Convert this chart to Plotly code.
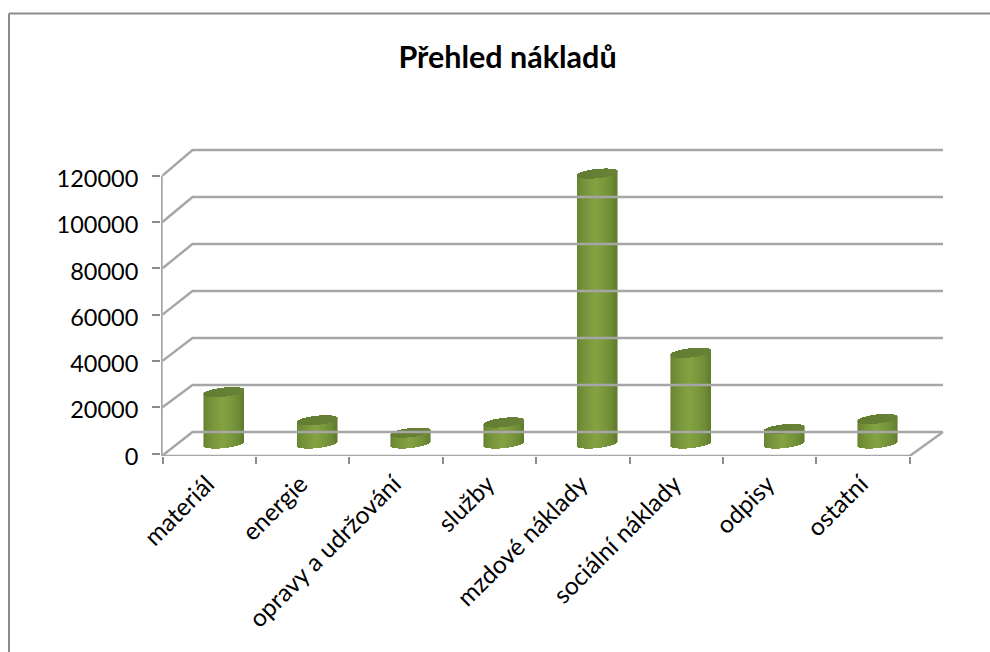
import numpy as np
import plotly.graph_objects as go

categories = ["materiál", "energie", "opravy a udržování", "služby",
              "mzdové náklady", "sociální náklady", "odpisy", "ostatní"]
values = [22200, 10000, 4700, 9100, 116600, 39200, 6300, 10600]
y_ticks = [0, 20000, 40000, 60000, 80000, 100000, 120000]

W, H = 990, 652
PX_PER_CAT = 93.4
UNITS_PER_PX = 20000 / 46.3
ZERO_PX = 453.5
PLOT_L, PLOT_R, PLOT_T, PLOT_B = 161, 960, 140, 456
FONT = "Lato"
GRID = "#a6a6a6"


def cat_x(px):
    return (px - 162.5) / PX_PER_CAT


def val_y(px):
    return (ZERO_PX - px) * UNITS_PER_PX


x_range = [cat_x(PLOT_L), cat_x(PLOT_R)]
y_range = [val_y(PLOT_B), val_y(PLOT_T)]

DX = 30 / PX_PER_CAT          # oblique depth, in category units
n = len(categories)
BACK_STEP = 47 / 46.3
back0 = val_y(432)
front_floor = val_y(456)

fig = go.Figure()


def line(xs, ys, color=GRID, width=2.4):
    fig.add_trace(go.Scatter(x=xs, y=ys, mode="lines", hoverinfo="skip",
                             line=dict(color=color, width=width),
                             showlegend=False))


# walls
for v in y_ticks:
    back = back0 + v * BACK_STEP
    start = v if v else val_y(455.5)
    line([0, DX, cat_x(943)], [start, back, back])
# floor
line([0, n, cat_x(943)], [front_floor, front_floor, back0])
# vertical axis
line([cat_x(161.5)] * 2, [front_floor, 120000])

# cylinders, drawn as one-pixel vertical strips
HALF_W = 20.5
E_PX = 4.6
TILT = 2.2
OFFSET = 14.5 / PX_PER_CAT
BASE = 10 * UNITS_PER_PX
us = np.arange(-HALF_W + 0.5, HALF_W, 1.0) / HALF_W


def mix(a, b, t):
    return tuple(a[i] + (b[i] - a[i]) * t for i in range(3))


def body_colour(u):
    dark, light = (94, 122, 44), (132, 162, 66)
    t = np.clip(1 - abs(u + 0.05) / 1.0, 0, 1) ** 0.6
    c = mix(dark, light, t)
    alpha = 0.55 if abs(u) > 0.96 else 1
    return f"rgba({c[0]:.0f},{c[1]:.0f},{c[2]:.0f},{alpha})"


def cap_colour(u):
    c = mix((98, 124, 50), (104, 130, 56), (u + 1) / 2)
    alpha = 0.55 if abs(u) > 0.96 else 1
    return f"rgba({c[0]:.0f},{c[1]:.0f},{c[2]:.0f},{alpha})"


bx, bb, bh, bc, cx, cb, ch, cc = [], [], [], [], [], [], [], []
for i, v in enumerate(values):
    for u in us:
        half = E_PX * np.sqrt(max(1 - u * u, 0)) * UNITS_PER_PX
        tilt = TILT * u * UNITS_PER_PX
        xpos = i + 0.5 + OFFSET + u * HALF_W / PX_PER_CAT
        low = BASE + tilt - half
        top = BASE + v + tilt
        bx.append(xpos); bb.append(low); bh.append(top - low); bc.append(body_colour(u))
        cx.append(xpos); cb.append(top - half); ch.append(2 * half); cc.append(cap_colour(u))

strip = 1.0 / PX_PER_CAT
fig.add_trace(go.Bar(x=bx, y=bh, base=bb, width=strip, marker=dict(color=bc, line_width=0),
                     hoverinfo="skip", showlegend=False))
fig.add_trace(go.Bar(x=cx, y=ch, base=cb, width=strip, marker=dict(color=cc, line_width=0),
                     hoverinfo="skip", showlegend=False))

# frame, open at the right and bottom like the cropped reference
frame = dict(type="line", xref="paper", yref="paper",
             line=dict(color="#8c8c8c", width=2))


def pxp(px):
    return (px - PLOT_L) / (PLOT_R - PLOT_L)


def pyp(py):
    return (PLOT_B - py) / (PLOT_B - PLOT_T)


fig.update_layout(
    width=W, height=H, autosize=False,
    margin=dict(l=PLOT_L, r=W - PLOT_R, t=PLOT_T, b=H - PLOT_B),
    paper_bgcolor="white", plot_bgcolor="rgba(0,0,0,0)",
    barmode="overlay", bargap=0,
    font=dict(family=FONT, color="black"),
    title=dict(text="<b>Přehled nákladů</b>", x=507.5 / W, xanchor="center",
               y=1 - 57 / H, yanchor="middle", font=dict(size=30.5, family=FONT, color="black")),
    shapes=[
        dict(frame, x0=pxp(9), x1=pxp(W + 5), y0=pyp(13.5), y1=pyp(13.5)),
        dict(frame, x0=pxp(9), x1=pxp(9), y0=pyp(13.5), y1=pyp(H + 5)),
    ],
    xaxis=dict(range=x_range, tickmode="array", tickvals=[i + 0.5 for i in range(n)],
               ticktext=categories, tickangle=-45, ticks="", showgrid=False, zeroline=False,
               showline=False, tickfont=dict(size=24.5, family=FONT, color="black"),
               ticklabelstandoff=8, ticklabelshift=-2,
               minor=dict(tickmode="array", tickvals=list(range(n + 1)), ticks="outside",
                          ticklen=7, tickwidth=2, tickcolor="#8c8c8c", showgrid=False)),
    yaxis=dict(range=y_range, tickmode="array", tickvals=y_ticks, ticks="outside",
               ticklen=8, tickwidth=2, tickcolor="#8c8c8c", showgrid=False, zeroline=False,
               showline=False, tickfont=dict(size=23.5, family=FONT, color="black"),
               tickformat="d", ticklabelstandoff=9, ticklabelshift=3),
)
fig.write_html("out.html", config={"displayModeBar": False},
               post_script="document.body.style.margin='0';")
